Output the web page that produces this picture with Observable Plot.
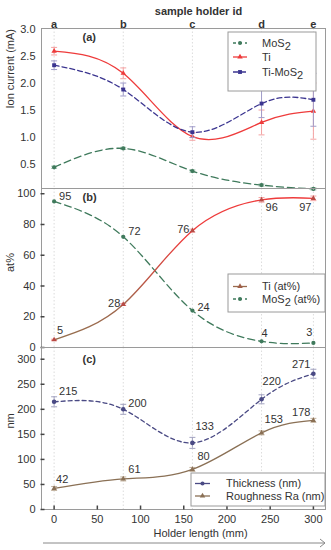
<!DOCTYPE html>
<html><head><meta charset="utf-8">
<script src="https://cdn.jsdelivr.net/npm/d3@7"></script>
<script src="https://cdn.jsdelivr.net/npm/@observablehq/plot@0.6"></script>
<style>
body{margin:0;background:#fff;}
#chart{position:relative;width:331px;height:550px;font-family:"Liberation Sans",Arial,sans-serif;}
#chart svg{position:absolute;left:0;overflow:visible;}
</style></head><body><div id="chart"></div>
<script>
// ---------- data ----------
const holderLength = [0, 80, 160, 240, 300];
const holderIds = ["a", "b", "c", "d", "e"];
const xTicks = [0, 50, 100, 150, 200, 250, 300];

// (a) ion current (mA)
const ionMoS2 = [0.45, 0.80, 0.38, 0.12, 0.05];
const ionMoS2Err = [0.02, 0.02, 0.02, 0.02, 0.02];
const ionTi = [2.60, 2.19, 1.02, 1.28, 1.49];
const ionTiErr = [0.07, 0.10, 0.07, 0.23, 0.52];
const ionTiMoS2 = [2.34, 1.89, 1.10, 1.63, 1.70];
const ionTiMoS2Err = [0.08, 0.12, 0.10, 0.26, 0.49];
const ionTicks = [0.5, 1.0, 1.5, 2.0, 2.5, 3.0];

// (b) composition at%
const atTi = [5, 28, 76, 96, 97];
const atTiErr = [0.4, 0.6, 1.0, 1.5, 1.5];
const atMoS2 = [95, 72, 24, 4, 3];
const atTicks = [0, 20, 40, 60, 80, 100];

// (c) nm
const thickness = [215, 200, 133, 220, 271];
const thicknessErr = [10, 10, 11, 9, 9];
const roughness = [42, 61, 80, 153, 178];
const roughnessErr = [4, 4, 4, 4, 4];
const nmTicks = [0, 50, 100, 150, 200, 250, 300];

// ---------- layout / style (not data) ----------
const xDomain = [-14.6, 314];
const W = 331, ML = 41, MR = 6;
const font = "Liberation Sans, Arial, sans-serif";
const C = {
  red: "#ee3b3b", redErr: "#f4a3a3",
  navy: "#3b3590", navyErr: "#a09cc9",
  green: "#3f7a5c",
  thick: "#4a4a84", thickErr: "#a3a3c0",
  brown: "#8a7055", brownErr: "#c2b29e",
  frame: "#9a9a9a", grid: "#dcdcdc", text: "#333"
};
const labOffB_Ti = [[3,-9,"start"],[-3,-1,"end"],[-3,-1,"end"],[4,8,"start"],[-2,9,"end"]];
const labOffB_Mo = [[5,-5,"start"],[5,-5,"start"],[5,-3,"start"],[3,-8,"middle"],[-1,-10,"end"]];
const labOffC_Th = [[5,-10,"start"],[5,-6,"start"],[3,-16,"start"],[1,-18,"start"],[-3,-9,"end"]];
const labOffC_Ro = [[2,-9,"start"],[5,-9,"start"],[5,-13,"start"],[3,-13,"start"],[-3,-8,"end"]];

const rows = (vals, errs, offs) => holderLength.map((x, i) => ({
  x, y: vals[i], err: errs ? errs[i] : 0, label: String(vals[i]),
  dx: offs ? offs[i][0] : 0, dy: offs ? offs[i][1] : 0, anchor: offs ? offs[i][2] : "start"
}));

const hline = {draw(ctx) { ctx.moveTo(-3, 0); ctx.lineTo(3, 0); }};
const tickH = {draw(ctx) { ctx.moveTo(-2, 0); ctx.lineTo(2, 0); }};
const tickV = {draw(ctx) { ctx.moveTo(0, -2); ctx.lineTo(0, 2); }};

function series(data, o) {
  const m = [];
  if (o.err) {
    m.push(Plot.ruleX(data, {x: "x", y1: d => d.y - d.err, y2: d => d.y + d.err, stroke: o.errColor, strokeWidth: 1}));
    m.push(Plot.dot(data, {x: "x", y: d => d.y - d.err, symbol: hline, stroke: o.errColor, fill: "none", strokeWidth: 1}));
    m.push(Plot.dot(data, {x: "x", y: d => d.y + d.err, symbol: hline, stroke: o.errColor, fill: "none", strokeWidth: 1}));
  }
  m.push(Plot.line(data, {x: "x", y: "y", curve: "natural", stroke: o.stroke, strokeWidth: 1.3, strokeDasharray: o.dash || null}));
  m.push(Plot.dot(data, {x: "x", y: "y", symbol: o.symbol, r: o.r || 2.1, fill: o.fill || o.stroke, stroke: "none"}));
  return m;
}
// labels with per-point offsets
function labels(data) {
  return data.map(d => Plot.text([d], {x: "x", y: "y", text: "label", textAnchor: d.anchor, dx: d.dx, dy: d.dy, fill: C.text, fontSize: 11}));
}

function common(ticksY, fmt, withTicks) {
  const m = [
    Plot.ruleX(holderLength, {stroke: C.grid, strokeDasharray: "1.5,2"}),
    Plot.frame({stroke: C.frame}),
    Plot.axisY(ticksY, {tickSize: 0, tickPadding: 6, tickFormat: fmt, label: null, fill: C.text, fontSize: 11})
  ];
  if (withTicks) m.push(Plot.dot(ticksY, {y: d => d, frameAnchor: "left", dx: 1, symbol: tickH, stroke: "#444", fill: "none"}));
  return m;
}

const chart = document.getElementById("chart");
const baseStyle = {background: "transparent", fontFamily: font, fontSize: "11px", color: C.text, overflow: "visible"};

// ---------- panel (a) ----------
const pA = Plot.plot({
  width: W, height: 188, marginTop: 28, marginBottom: 0, marginLeft: ML, marginRight: MR,
  style: baseStyle,
  x: {domain: xDomain, axis: null},
  y: {domain: [0.057, 3.02], axis: null},
  marks: [
    ...common(ionTicks, d3.format(".1f"), false),
    ...series(rows(ionMoS2, ionMoS2Err), {stroke: C.green, errColor: "#9fc0ad", err: true, dash: "7,4", symbol: "circle"}),
    ...series(rows(ionTi, ionTiErr), {stroke: C.red, errColor: C.redErr, err: true, symbol: "triangle", r: 2}),
    ...series(rows(ionTiMoS2, ionTiMoS2Err), {stroke: C.navy, errColor: C.navyErr, err: true, dash: "5,3", symbol: "square", r: 2.2}),
    Plot.text(holderIds, {x: (d, i) => holderLength[i], text: d => d, frameAnchor: "top", dy: -8, fontWeight: "bold", fontSize: 11, fill: C.text}),
    Plot.text(["sample holder id"], {text: d => d, frameAnchor: "top", dx: 15, dy: -21, fontWeight: "bold", fontSize: 11, fill: C.text}),
    Plot.text(["(a)"], {text: d => d, frameAnchor: "top-left", dx: 41, dy: 5, fontWeight: "bold", fontSize: 11, fill: C.text}),
    Plot.text(["Ion current (mA)"], {text: d => d, frameAnchor: "left", rotate: -90, dx: -31, fontSize: 11, fill: C.text})
  ]
});
pA.style.top = "0px";
chart.appendChild(pA);

// ---------- panel (b) ----------
const tiB = rows(atTi, atTiErr, labOffB_Ti);
const moB = rows(atMoS2, null, labOffB_Mo);
const pB = Plot.plot({
  width: W, height: 159, marginTop: 0, marginBottom: 0, marginLeft: ML, marginRight: MR,
  style: baseStyle,
  x: {domain: xDomain, axis: null},
  y: {domain: [0, 103.4], axis: null},
  marks: [
    ...common(atTicks, d => d, true),
    ...series(moB, {stroke: C.green, dash: "7,4", symbol: "circle"}),
    ...series(tiB, {stroke: "url(#tiGrad)", fill: "#b84a44", errColor: C.redErr, err: true, symbol: "triangle", r: 2}),
    ...labels(tiB), ...labels(moB),
    Plot.text(["(b)"], {text: d => d, frameAnchor: "top-left", dx: 41, dy: 5, fontWeight: "bold", fontSize: 11, fill: C.text}),
    Plot.text(["at%"], {text: d => d, frameAnchor: "left", rotate: -90, dx: -31, dy: 4, fontSize: 11, fill: C.text})
  ]
});
pB.style.top = "188px";
const defs = d3.select(pB).insert("defs", ":first-child");
const grad = defs.append("linearGradient").attr("id", "tiGrad").attr("x1", 0).attr("x2", 1).attr("y1", 0).attr("y2", 0);
grad.append("stop").attr("offset", 0).attr("stop-color", "#94704f");
grad.append("stop").attr("offset", 0.27).attr("stop-color", "#a0664c");
grad.append("stop").attr("offset", 0.5).attr("stop-color", C.red);
grad.append("stop").attr("offset", 1).attr("stop-color", C.red);
chart.appendChild(pB);

// ---------- panel (c) ----------
const thC = rows(thickness, thicknessErr, labOffC_Th);
const roC = rows(roughness, roughnessErr, labOffC_Ro);
const pC = Plot.plot({
  width: W, height: 203, marginTop: 0, marginBottom: 41, marginLeft: ML, marginRight: MR,
  style: baseStyle,
  x: {domain: xDomain, axis: null},
  y: {domain: [0, 323.4], axis: null},
  marks: [
    ...common(nmTicks, d => d, true),
    Plot.axisX(xTicks, {anchor: "bottom", tickSize: 0, tickPadding: 6, label: null, fill: C.text, fontSize: 11}),
    Plot.dot(xTicks, {x: d => d, frameAnchor: "bottom", dy: -2, symbol: tickV, stroke: "#444", fill: "none"}),
    ...series(roC, {stroke: C.brown, errColor: C.brownErr, err: true, symbol: "triangle", r: 2}),
    ...series(thC, {stroke: C.thick, errColor: C.thickErr, err: true, dash: "4,3", symbol: "circle", r: 2.3}),
    ...labels(thC), ...labels(roC),
    Plot.text(["(c)"], {text: d => d, frameAnchor: "top-left", dx: 41, dy: 8, fontWeight: "bold", fontSize: 11, fill: C.text}),
    Plot.text(["nm"], {text: d => d, frameAnchor: "left", rotate: -90, dx: -31, fontSize: 11, fill: C.text}),
    Plot.text(["Holder length (mm)"], {text: d => d, frameAnchor: "bottom", dx: 17, dy: 27, fontSize: 11, fill: C.text})
  ]
});
pC.style.top = "347px";
chart.appendChild(pC);

// ---------- legends & arrow overlay ----------
const ov = d3.select(chart).append("svg").attr("width", W).attr("height", 550).style("top", "0px")
  .attr("font-family", font).attr("font-size", 11);

function legend(x, y, w, h, sw1, sw2, tx, items) {
  const g = ov.append("g").attr("transform", `translate(${x},${y})`);
  g.append("rect").attr("width", w).attr("height", h).attr("fill", "#fff").attr("stroke", C.frame);
  for (const it of items) {
    g.append("line").attr("x1", sw1).attr("x2", sw2).attr("y1", it.y).attr("y2", it.y)
      .attr("stroke", it.color).attr("stroke-width", 1.3).attr("stroke-dasharray", it.dash || null);
    const cx = (sw1 + sw2) / 2;
    const sym = d3.symbol().type(it.sym).size(it.size || 13);
    g.append("path").attr("d", sym()).attr("transform", `translate(${cx},${it.y})`).attr("fill", it.mcolor || it.color);
    const t = g.append("text").attr("x", tx).attr("y", it.y).attr("dy", "0.35em").attr("fill", C.text);
    t.append("tspan").text(it.text[0]);
    if (it.text[1]) t.append("tspan").attr("dy", 3).attr("font-size", 11).text(it.text[1]);
    if (it.text[2]) t.append("tspan").attr("dy", -3).text(it.text[2]);
  }
}
legend(228, 32, 88, 59, 5, 19, 34, [
  {y: 11, color: C.green, dash: "3,3", sym: d3.symbolCircle, text: ["MoS", "2"]},
  {y: 25, color: C.red, sym: d3.symbolTriangle, text: ["Ti"]},
  {y: 40, color: C.navy, dash: "5,3", sym: d3.symbolSquare, size: 15, text: ["Ti-MoS", "2"]}
]);
legend(228, 274, 97, 38, 5, 19, 34, [
  {y: 12.5, color: "#9a6a4e", mcolor: "#a0604a", sym: d3.symbolTriangle, text: ["Ti (at%)"]},
  {y: 25, color: C.green, dash: "3,3", sym: d3.symbolCircle, text: ["MoS", "2", " (at%)"]}
]);
legend(191, 473, 134, 33, 4, 19, 35, [
  {y: 10.5, color: C.thick, sym: d3.symbolCircle, text: ["Thickness (nm)"]},
  {y: 23, color: C.brown, sym: d3.symbolTriangle, text: ["Roughness Ra (nm)"]}
]);
// bottom arrow
ov.append("line").attr("x1", 43).attr("x2", 325).attr("y1", 543).attr("y2", 543).attr("stroke", "#888").attr("stroke-width", 1);
ov.append("path").attr("d", "M320,539L325,543L320,547").attr("fill", "none").attr("stroke", "#888").attr("stroke-width", 1);
</script>
</body></html>
